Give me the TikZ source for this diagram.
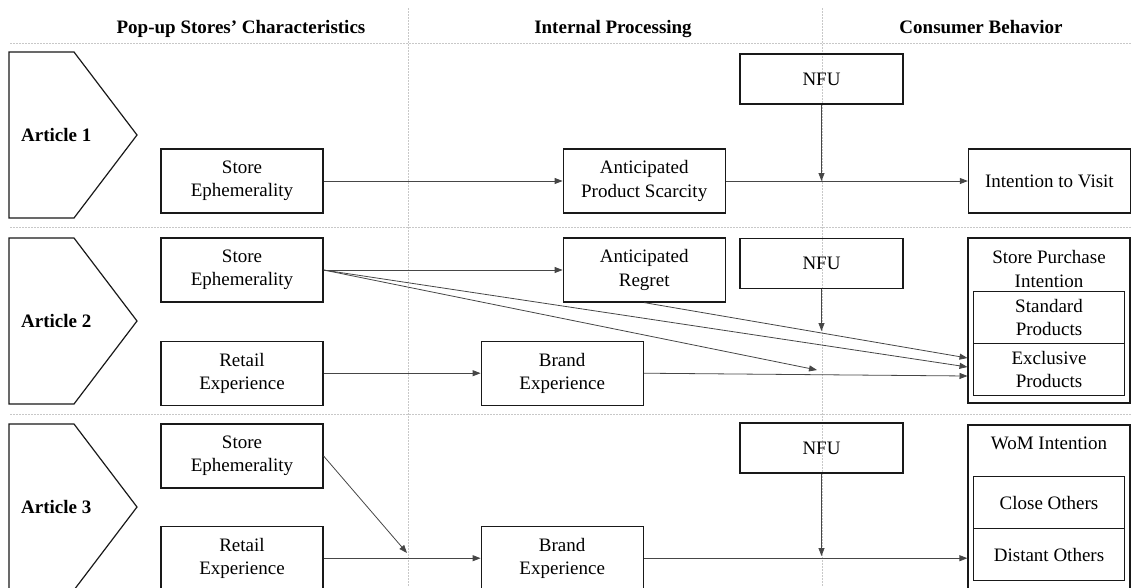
\documentclass[tikz,border=0pt]{standalone}
\usepackage{fontspec}
\setmainfont{Liberation Serif}
\usepackage{xcolor}
\usepackage{tikz}
\usetikzlibrary{positioning, calc, arrows.meta}
\definecolor{sepgray}{RGB}{200, 200, 200}
\definecolor{linkgray}{RGB}{70, 70, 70}

\begin{document}
\begin{tikzpicture}[
    x=1pt, y=-1pt,
    node distance=16pt,
    every node/.style={font=\fontsize{19}{23.5}\selectfont, align=center, inner sep=0pt},
    box/.style={draw=black!90, line width=1.2pt, minimum width=162pt, minimum height=64pt},
    nfu/.style={box, minimum width=163pt, minimum height=50pt},
    subbox/.style={draw=black!90, line width=1.2pt, minimum width=151pt, minimum height=52pt},
    colhead/.style={font=\fontsize{19}{23.5}\selectfont\bfseries},
    sepline/.style={sepgray, line width=0.8pt, dash pattern=on 1.5pt off 1.5pt},
    link/.style={linkgray, line width=0.8pt, -{Triangle[length=8pt, width=6pt]}}
]
    \useasboundingbox (0,0) rectangle (1132,587);

    % Column and row separators
    \draw[sepline] (408,8) -- (408,587);
    \draw[sepline] (822,8) -- (822,587);
    \foreach \y in {43, 227, 414} {
        \draw[sepline] (10,\y) -- (1132,\y);
    }

    % Column headings
    \node[colhead, anchor=base] (head1) at (241,33) {Pop-up Stores’ Characteristics};
    \node[colhead, anchor=base] (head2) at (613,33) {Internal Processing};
    \node[colhead, anchor=base] (head3) at (981,33) {Consumer Behavior};

    % Article tags
    \foreach \n/\t in {1/52, 2/238, 3/424} {
        \draw[black!90, line width=1.2pt] (9,\t) -- (74,\t) -- (137,\t+83) -- (74,\t+166) -- (9,\t+166) -- cycle;
        \node[colhead, anchor=west] (art\n) at (21,\t+83) {Article \n};
    }

    % Article 1
    \node[box] (eph1) at (242,181) {Store\\Ephemerality};
    \node[box, right=239pt of eph1] (scarcity) {Anticipated\\Product Scarcity};
    \node[box, right=242pt of scarcity] (visit) {Intention to Visit};
    \node[nfu] (nfu1) at (821.5,79) {NFU};
    \coordinate (m1) at (nfu1.south |- visit.west);

    % Article 2
    \node[box] (eph2) at (242,270) {Store\\Ephemerality};
    \node[box, below=38pt of eph2] (retail2) {Retail\\Experience};
    \node[box, right=239pt of eph2] (regret) {Anticipated\\Regret};
    \node[box, right=157pt of retail2] (brand2) {Brand\\Experience};
    \node[nfu] (nfu2) at (821.5,263.5) {NFU};
    \node[box, minimum height=165pt] (purchase) at (1049,320.5) {};
    \node (purchasetitle) at (1049,269) {Store Purchase\\Intention};
    \node[subbox] (standard) at (1049,317.5) {Standard\\Products};
    \node[subbox] (exclusive) at (1049,369.5) {Exclusive\\Products};
    \coordinate (p1) at (967.5,358);
    \coordinate (p2) at (967.5,367);
    \coordinate (p3) at (967.5,376);
    \coordinate (m2a) at (821.5,331);
    \coordinate (m2b) at (817,370);

    % Article 3
    \node[box] (eph3) at (242,456) {Store\\Ephemerality};
    \node[box, below=37pt of eph3] (retail3) {Retail\\Experience};
    \node[box, right=157pt of retail3] (brand3) {Brand\\Experience};
    \node[nfu] (nfu3) at (821.5,448) {NFU};
    \node[box, minimum height=165pt] (wom) at (1049,507.5) {};
    \node (womtitle) at (1049,443) {WoM Intention};
    \node[subbox] (close) at (1049,502.5) {Close Others};
    \node[subbox] (distant) at (1049,554.5) {Distant Others};
    \coordinate (m3a) at (407,553);
    \coordinate (m3b) at (821.5,556);

    % Connections
    \foreach \i/\j in {eph1/scarcity, scarcity/visit, eph2/regret, retail2/brand2, retail3/brand3} {
        \draw[link] (\i.east) -- (\j.west);
    }
    \draw[link] (nfu1) -- (m1);
    \draw[link] (regret.south) -- (p1);
    \draw[link] (eph2.east) -- (p2);
    \draw[link] (eph2.east) -- (m2b);
    \draw[link] (brand2.east) -- (p3);
    \draw[link] (nfu2) -- (m2a);
    \draw[link] (eph3.east) -- (m3a);
    \draw[link] (brand3.east) -- (brand3.east -| wom.west);
    \draw[link] (nfu3) -- (m3b);
\end{tikzpicture}
\end{document}
